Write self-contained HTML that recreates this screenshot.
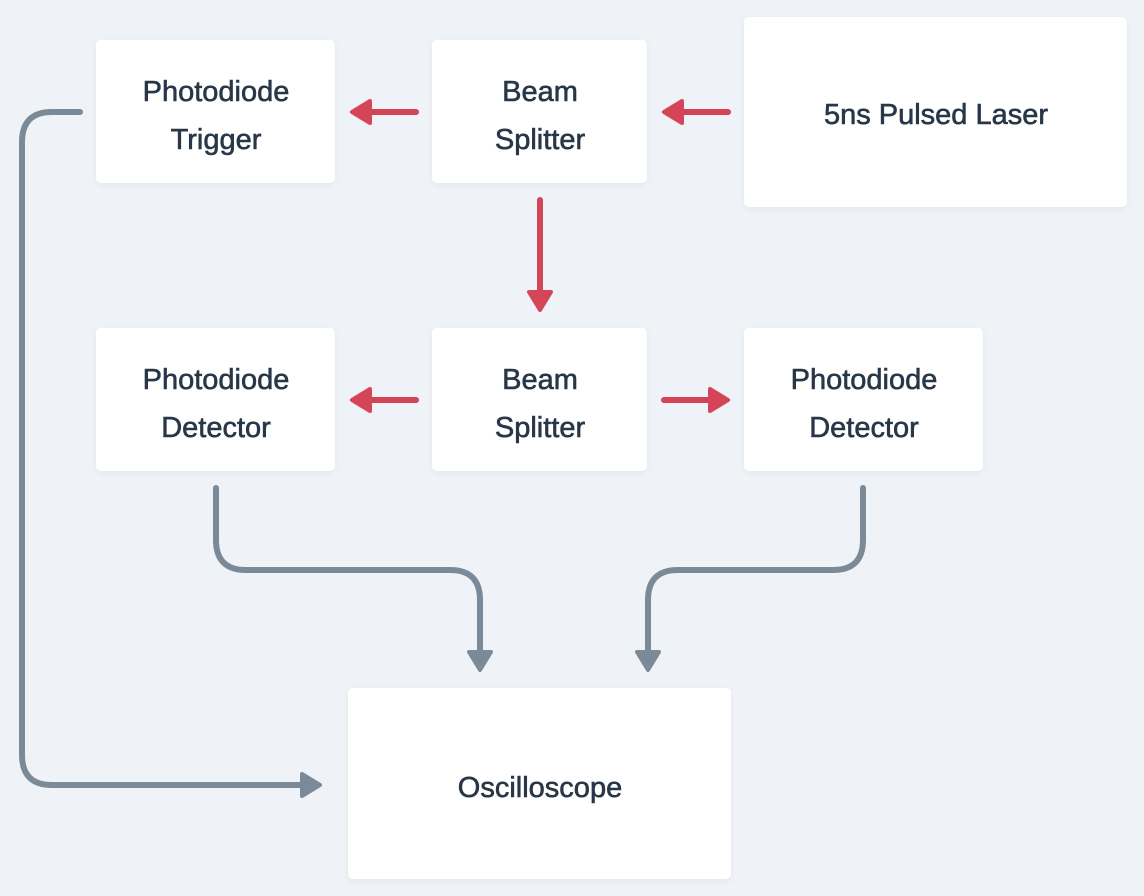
<!DOCTYPE html>
<html><head><style>
html,body{margin:0;padding:0;background:#eff2f6;}
svg{display:block}
text{font-family:"Liberation Sans",sans-serif;font-size:29px;fill:#283747;text-anchor:middle;stroke:#283747;stroke-width:0.6px;}
</style></head><body>
<svg width="1144" height="896" viewBox="0 0 1144 896">
<defs><filter id="s" x="-10%" y="-10%" width="120%" height="130%"><feDropShadow dx="0" dy="2" stdDeviation="3" flood-color="#000" flood-opacity="0.05"/></filter></defs>
<g fill="#fff" filter="url(#s)">
<rect x="96" y="40" width="239" height="143" rx="5"/>
<rect x="432" y="40" width="215" height="143" rx="5"/>
<rect x="744" y="17" width="383" height="190" rx="5"/>
<rect x="96" y="328" width="239" height="143" rx="5"/>
<rect x="432" y="328" width="215" height="143" rx="5"/>
<rect x="744" y="328" width="239" height="143" rx="5"/>
<rect x="348" y="688" width="383" height="191" rx="5"/>
</g>
<text x="216" y="101">Photodiode</text><text x="216" y="149">Trigger</text>
<text x="540" y="101">Beam</text><text x="540" y="149">Splitter</text>
<text x="936" y="124">5ns Pulsed Laser</text>
<text x="216" y="389">Photodiode</text><text x="216" y="437">Detector</text>
<text x="540" y="389">Beam</text><text x="540" y="437">Splitter</text>
<text x="864" y="389">Photodiode</text><text x="864" y="437">Detector</text>
<text x="540" y="797">Oscilloscope</text>
<g stroke="#d44558" stroke-width="6" stroke-linecap="round" fill="#d44558" stroke-linejoin="round">
<line x1="728" y1="112" x2="672" y2="112"/><polygon points="664,112 682,101 682,123" stroke-width="4"/>
<line x1="416" y1="112" x2="360" y2="112"/><polygon points="352,112 370,101 370,123" stroke-width="4"/>
<line x1="540" y1="200" x2="540" y2="296"/><polygon points="540,310 529,292 551,292" stroke-width="4"/>
<line x1="416" y1="400" x2="360" y2="400"/><polygon points="352,400 370,389 370,411" stroke-width="4"/>
<line x1="664" y1="400" x2="716" y2="400"/><polygon points="728,400 710,389 710,411" stroke-width="4"/>
</g>
<g stroke="#7b8a99" stroke-width="6" stroke-linecap="round" fill="none" stroke-linejoin="round">
<path d="M80 112 H52 Q22 112 22 142 V755 Q22 785 52 785 H306"/>
<polygon points="320,785 302,774 302,796" fill="#7b8a99" stroke-width="4"/>
<path d="M216 488 V540 Q216 570 246 570 H450 Q480 570 480 600 V656"/>
<polygon points="480,670 469,652 491,652" fill="#7b8a99" stroke-width="4"/>
<path d="M863 488 V540 Q863 570 833 570 H678 Q648 570 648 600 V656"/>
<polygon points="648,670 637,652 659,652" fill="#7b8a99" stroke-width="4"/>
</g>
</svg>
</body></html>
